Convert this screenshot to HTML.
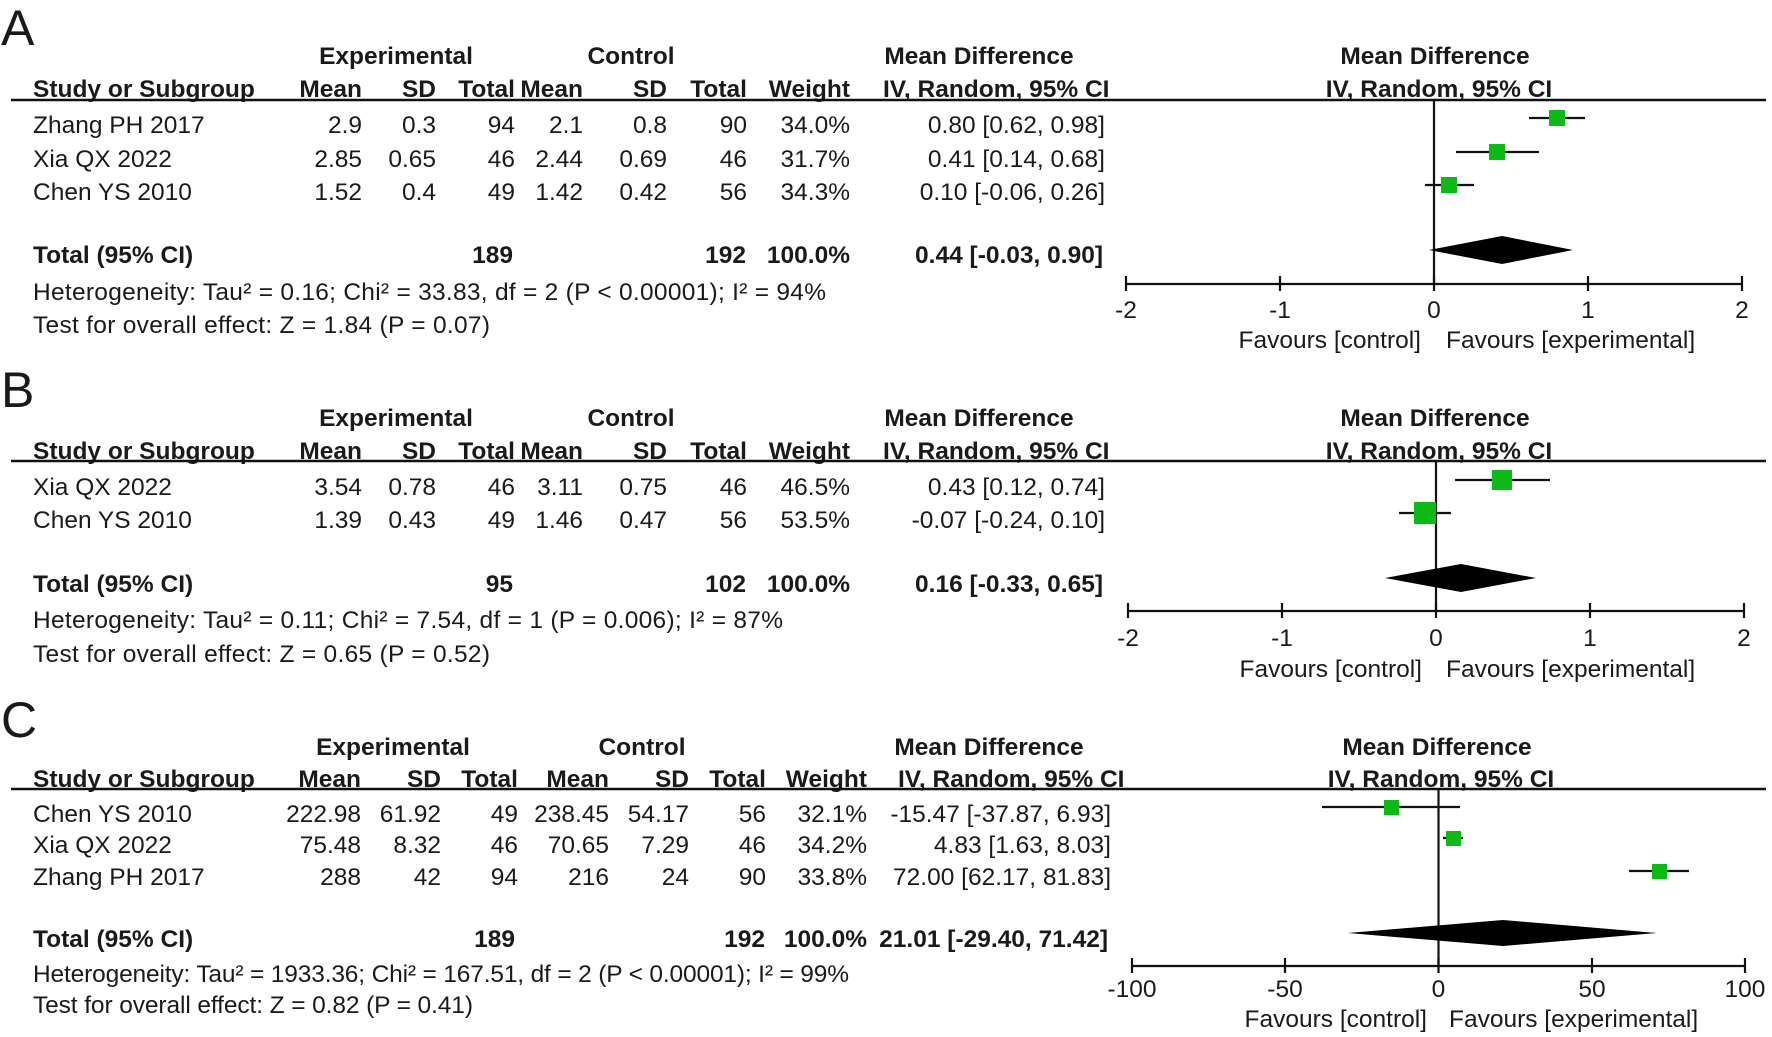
<!DOCTYPE html>
<html><head><meta charset="utf-8"><style>
html,body{margin:0;padding:0;background:#fff;}
svg{display:block;}
text{font-family:"Liberation Sans",Arial,sans-serif;font-size:24.5px;fill:#1a1a1a;}
.b{font-weight:bold;}
.e{text-anchor:end;}
.m{text-anchor:middle;}
.L{font-size:50px;}
</style></head><body>
<svg width="1772" height="1037" viewBox="0 0 1772 1037" xmlns="http://www.w3.org/2000/svg">
<!-- Panel A -->
<text x="1" y="45" class="L">A</text>
<text x="396" y="64" class="b m">Experimental</text>
<text x="631" y="64" class="b m">Control</text>
<text x="979" y="64" class="b m">Mean Difference</text>
<text x="1435" y="64" class="b m">Mean Difference</text>
<text x="33" y="97" class="b">Study or Subgroup</text>
<text x="362" y="97" class="b e">Mean</text>
<text x="436" y="97" class="b e">SD</text>
<text x="515" y="97" class="b e">Total</text>
<text x="583" y="97" class="b e">Mean</text>
<text x="667" y="97" class="b e">SD</text>
<text x="747" y="97" class="b e">Total</text>
<text x="850" y="97" class="b e">Weight</text>
<text x="883" y="97" class="b">IV, Random, 95% CI</text>
<text x="1439" y="97" class="b m">IV, Random, 95% CI</text>
<line x1="11" y1="100" x2="1766" y2="100" stroke="#111" stroke-width="2.5"/>
<g>
<text x="33" y="133">Zhang PH 2017</text><text x="362" y="133" class="e">2.9</text><text x="436" y="133" class="e">0.3</text><text x="515" y="133" class="e">94</text><text x="583" y="133" class="e">2.1</text><text x="667" y="133" class="e">0.8</text><text x="747" y="133" class="e">90</text><text x="850" y="133" class="e">34.0%</text><text x="1105" y="133" class="e">0.80 [0.62, 0.98]</text>
<text x="33" y="167">Xia QX 2022</text><text x="362" y="167" class="e">2.85</text><text x="436" y="167" class="e">0.65</text><text x="515" y="167" class="e">46</text><text x="583" y="167" class="e">2.44</text><text x="667" y="167" class="e">0.69</text><text x="747" y="167" class="e">46</text><text x="850" y="167" class="e">31.7%</text><text x="1105" y="167" class="e">0.41 [0.14, 0.68]</text>
<text x="33" y="200">Chen YS 2010</text><text x="362" y="200" class="e">1.52</text><text x="436" y="200" class="e">0.4</text><text x="515" y="200" class="e">49</text><text x="583" y="200" class="e">1.42</text><text x="667" y="200" class="e">0.42</text><text x="747" y="200" class="e">56</text><text x="850" y="200" class="e">34.3%</text><text x="1105" y="200" class="e">0.10 [-0.06, 0.26]</text>
<text x="33" y="263" class="b">Total (95% CI)</text><text x="513" y="263" class="b e">189</text><text x="746" y="263" class="b e">192</text><text x="850" y="263" class="b e">100.0%</text><text x="1103" y="263" class="b e">0.44 [-0.03, 0.90]</text>
<text x="33" y="300" textLength="793">Heterogeneity: Tau² = 0.16; Chi² = 33.83, df = 2 (P &lt; 0.00001); I² = 94%</text>
<text x="33" y="333" textLength="457">Test for overall effect: Z = 1.84 (P = 0.07)</text>
</g>
<g stroke="#111" stroke-width="2.2">
<line x1="1434" y1="100" x2="1434" y2="284"/>
<line x1="1126" y1="284" x2="1742" y2="284"/>
<line x1="1126" y1="276" x2="1126" y2="291"/><line x1="1280" y1="276" x2="1280" y2="291"/><line x1="1434" y1="276" x2="1434" y2="291"/><line x1="1588" y1="276" x2="1588" y2="291"/><line x1="1742" y1="276" x2="1742" y2="291"/>
<line x1="1529" y1="118" x2="1585" y2="118"/><line x1="1456" y1="152" x2="1539" y2="152"/><line x1="1425" y1="185" x2="1474" y2="185"/>
</g>
<g fill="#0cba16">
<rect x="1549" y="110" width="16" height="16"/><rect x="1489" y="144" width="16" height="16"/><rect x="1441" y="177" width="16" height="16"/>
</g>
<polygon points="1429,250 1502,236 1573,250 1502,264" fill="#000"/>
<text x="1126" y="318" class="m">-2</text><text x="1280" y="318" class="m">-1</text><text x="1434" y="318" class="m">0</text><text x="1588" y="318" class="m">1</text><text x="1742" y="318" class="m">2</text>
<text x="1421" y="348" class="e">Favours [control]</text><text x="1446" y="348">Favours [experimental]</text>

<!-- Panel B -->
<text x="1" y="407" class="L">B</text>
<text x="396" y="426" class="b m">Experimental</text>
<text x="631" y="426" class="b m">Control</text>
<text x="979" y="426" class="b m">Mean Difference</text>
<text x="1435" y="426" class="b m">Mean Difference</text>
<text x="33" y="459" class="b">Study or Subgroup</text>
<text x="362" y="459" class="b e">Mean</text>
<text x="436" y="459" class="b e">SD</text>
<text x="515" y="459" class="b e">Total</text>
<text x="583" y="459" class="b e">Mean</text>
<text x="667" y="459" class="b e">SD</text>
<text x="747" y="459" class="b e">Total</text>
<text x="850" y="459" class="b e">Weight</text>
<text x="883" y="459" class="b">IV, Random, 95% CI</text>
<text x="1439" y="459" class="b m">IV, Random, 95% CI</text>
<line x1="11" y1="461" x2="1766" y2="461" stroke="#111" stroke-width="2.5"/>
<text x="33" y="495">Xia QX 2022</text><text x="362" y="495" class="e">3.54</text><text x="436" y="495" class="e">0.78</text><text x="515" y="495" class="e">46</text><text x="583" y="495" class="e">3.11</text><text x="667" y="495" class="e">0.75</text><text x="747" y="495" class="e">46</text><text x="850" y="495" class="e">46.5%</text><text x="1105" y="495" class="e">0.43 [0.12, 0.74]</text>
<text x="33" y="528">Chen YS 2010</text><text x="362" y="528" class="e">1.39</text><text x="436" y="528" class="e">0.43</text><text x="515" y="528" class="e">49</text><text x="583" y="528" class="e">1.46</text><text x="667" y="528" class="e">0.47</text><text x="747" y="528" class="e">56</text><text x="850" y="528" class="e">53.5%</text><text x="1105" y="528" class="e">-0.07 [-0.24, 0.10]</text>
<text x="33" y="592" class="b">Total (95% CI)</text><text x="513" y="592" class="b e">95</text><text x="746" y="592" class="b e">102</text><text x="850" y="592" class="b e">100.0%</text><text x="1103" y="592" class="b e">0.16 [-0.33, 0.65]</text>
<text x="33" y="628" textLength="750">Heterogeneity: Tau² = 0.11; Chi² = 7.54, df = 1 (P = 0.006); I² = 87%</text>
<text x="33" y="662" textLength="457">Test for overall effect: Z = 0.65 (P = 0.52)</text>
<g stroke="#111" stroke-width="2.2">
<line x1="1436" y1="461" x2="1436" y2="611"/>
<line x1="1128" y1="611" x2="1744" y2="611"/>
<line x1="1128" y1="603" x2="1128" y2="618"/><line x1="1282" y1="603" x2="1282" y2="618"/><line x1="1436" y1="603" x2="1436" y2="618"/><line x1="1590" y1="603" x2="1590" y2="618"/><line x1="1744" y1="603" x2="1744" y2="618"/>
<line x1="1455" y1="480" x2="1550" y2="480"/><line x1="1399" y1="513" x2="1451" y2="513"/>
</g>
<g fill="#0cba16">
<rect x="1492" y="470" width="20" height="20"/><rect x="1414" y="502" width="22" height="22"/>
</g>
<polygon points="1385,578 1461,564 1536,578 1461,592" fill="#000"/>
<text x="1128" y="646" class="m">-2</text><text x="1282" y="646" class="m">-1</text><text x="1436" y="646" class="m">0</text><text x="1590" y="646" class="m">1</text><text x="1744" y="646" class="m">2</text>
<text x="1422" y="677" class="e">Favours [control]</text><text x="1446" y="677">Favours [experimental]</text>

<!-- Panel C -->
<text x="1" y="737" class="L">C</text>
<text x="393" y="755" class="b m">Experimental</text>
<text x="642" y="755" class="b m">Control</text>
<text x="989" y="755" class="b m">Mean Difference</text>
<text x="1437" y="755" class="b m">Mean Difference</text>
<text x="33" y="787" class="b">Study or Subgroup</text>
<text x="361" y="787" class="b e">Mean</text>
<text x="441" y="787" class="b e">SD</text>
<text x="518" y="787" class="b e">Total</text>
<text x="609" y="787" class="b e">Mean</text>
<text x="689" y="787" class="b e">SD</text>
<text x="766" y="787" class="b e">Total</text>
<text x="867" y="787" class="b e">Weight</text>
<text x="898" y="787" class="b">IV, Random, 95% CI</text>
<text x="1441" y="787" class="b m">IV, Random, 95% CI</text>
<line x1="11" y1="789" x2="1766" y2="789" stroke="#111" stroke-width="2.5"/>
<text x="33" y="822">Chen YS 2010</text><text x="361" y="822" class="e">222.98</text><text x="441" y="822" class="e">61.92</text><text x="518" y="822" class="e">49</text><text x="609" y="822" class="e">238.45</text><text x="689" y="822" class="e">54.17</text><text x="766" y="822" class="e">56</text><text x="867" y="822" class="e">32.1%</text><text x="1111" y="822" class="e">-15.47 [-37.87, 6.93]</text>
<text x="33" y="853">Xia QX 2022</text><text x="361" y="853" class="e">75.48</text><text x="441" y="853" class="e">8.32</text><text x="518" y="853" class="e">46</text><text x="609" y="853" class="e">70.65</text><text x="689" y="853" class="e">7.29</text><text x="766" y="853" class="e">46</text><text x="867" y="853" class="e">34.2%</text><text x="1111" y="853" class="e">4.83 [1.63, 8.03]</text>
<text x="33" y="885">Zhang PH 2017</text><text x="361" y="885" class="e">288</text><text x="441" y="885" class="e">42</text><text x="518" y="885" class="e">94</text><text x="609" y="885" class="e">216</text><text x="689" y="885" class="e">24</text><text x="766" y="885" class="e">90</text><text x="867" y="885" class="e">33.8%</text><text x="1111" y="885" class="e">72.00 [62.17, 81.83]</text>
<text x="33" y="947" class="b">Total (95% CI)</text><text x="515" y="947" class="b e">189</text><text x="765" y="947" class="b e">192</text><text x="867" y="947" class="b e">100.0%</text><text x="1108" y="947" class="b e">21.01 [-29.40, 71.42]</text>
<text x="33" y="982" textLength="816">Heterogeneity: Tau² = 1933.36; Chi² = 167.51, df = 2 (P &lt; 0.00001); I² = 99%</text>
<text x="33" y="1013" textLength="440">Test for overall effect: Z = 0.82 (P = 0.41)</text>
<g stroke="#111" stroke-width="2.2">
<line x1="1438.5" y1="789" x2="1438.5" y2="966"/>
<line x1="1132" y1="966" x2="1745" y2="966"/>
<line x1="1132" y1="958" x2="1132" y2="973"/><line x1="1285" y1="958" x2="1285" y2="973"/><line x1="1438.5" y1="958" x2="1438.5" y2="973"/><line x1="1592" y1="958" x2="1592" y2="973"/><line x1="1745" y1="958" x2="1745" y2="973"/>
<line x1="1322" y1="807" x2="1460" y2="807"/><line x1="1443" y1="838" x2="1463" y2="838"/><line x1="1629" y1="871" x2="1689" y2="871"/>
</g>
<g fill="#0cba16">
<rect x="1384" y="800" width="15" height="15"/><rect x="1446" y="831" width="15" height="15"/><rect x="1652" y="864" width="15" height="15"/>
</g>
<polygon points="1348,933 1503,920 1657,933 1503,946" fill="#000"/>
<text x="1132" y="997" class="m">-100</text><text x="1285" y="997" class="m">-50</text><text x="1438.5" y="997" class="m">0</text><text x="1592" y="997" class="m">50</text><text x="1745" y="997" class="m">100</text>
<text x="1427" y="1027" class="e">Favours [control]</text><text x="1449" y="1027">Favours [experimental]</text>
</svg>
</body></html>
